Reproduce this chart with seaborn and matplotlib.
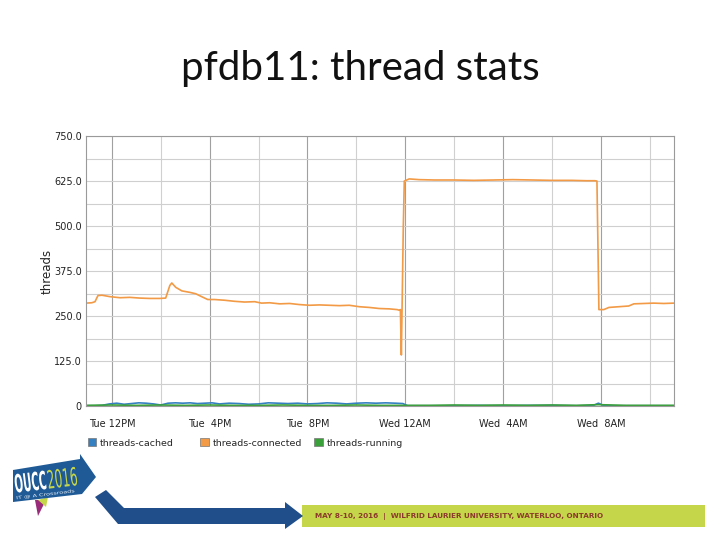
import numpy as np
import pandas as pd
import matplotlib

matplotlib.use('Agg')
import matplotlib.pyplot as plt
import matplotlib.patches as mpatches
from matplotlib.legend import Legend
from matplotlib.textpath import TextPath
from matplotlib.font_manager import FontProperties
from matplotlib.transforms import Affine2D
from matplotlib.ticker import MultipleLocator
import seaborn as sns

# --- dane (godziny od wtorku 00:00) ---
conn_t = [10.94, 11.18, 11.31, 11.43, 11.59, 11.92, 12.33, 12.73, 13.14, 13.55, 13.96, 14.20,
          14.37, 14.45, 14.61, 14.86, 15.18, 15.43, 15.67, 15.92, 16.20, 16.61, 17.02, 17.43,
          17.84, 18.12, 18.45, 18.86, 19.27, 19.67, 20.08, 20.49, 20.90, 21.31, 21.71, 22.12,
          22.53, 22.94, 23.35, 23.67, 23.76, 23.80, 23.84, 23.92, 23.96, 24.16, 24.57, 25.2,
          26.0, 26.8, 27.6, 28.4, 29.2, 30.0, 30.8, 31.4, 31.76, 31.84, 31.92, 32.12, 32.33,
          32.73, 33.14, 33.35, 33.76, 34.16, 34.57, 35.0]
conn_v = [286, 287, 290, 307, 308, 304, 301, 302, 300, 299, 299, 300,
          335, 342, 330, 320, 316, 312, 304, 296, 296, 294, 291, 289,
          290, 286, 287, 284, 285, 282, 280, 281, 280, 279, 280, 276,
          274, 271, 270, 268, 266, 268, 142, 500, 625, 631, 629, 628,
          628, 627, 628, 629, 628, 627, 627, 626, 626, 625, 268, 268, 274,
          276, 278, 284, 285, 286, 285, 286]

cached_t = [10.94, 11.3, 11.6, 11.9, 12.2, 12.5, 12.8, 13.1, 13.4, 13.7, 14.0, 14.3, 14.6,
            14.9, 15.2, 15.5, 15.8, 16.1, 16.4, 16.8, 17.2, 17.6, 18.0, 18.4, 18.8, 19.2,
            19.6, 20.0, 20.4, 20.8, 21.2, 21.6, 22.0, 22.4, 22.8, 23.2, 23.6, 23.9, 24.1,
            25.0, 26.0, 27.0, 28.0, 29.0, 30.0, 31.0, 31.7, 31.9, 32.1, 32.5, 33.5, 34.5, 35.0]
cached_v = [1, 1, 2, 6, 8, 5, 7, 9, 8, 6, 3, 8, 9,
            8, 9, 7, 8, 9, 6, 8, 7, 5, 6, 9, 8, 7,
            8, 6, 7, 9, 8, 6, 8, 9, 8, 9, 8, 7, 1,
            1, 1, 2, 1, 2, 2, 1, 2, 8, 2, 1, 1, 1, 1]

running_t = [10.94, 12.0, 13.0, 14.0, 15.0, 16.0, 17.0, 18.0, 19.0, 20.0, 21.0, 22.0, 23.0,
             24.0, 25.0, 26.0, 27.0, 28.0, 29.0, 30.0, 31.0, 31.9, 33.0, 34.0, 35.0]
running_v = [2, 3, 2, 3, 2, 3, 2, 2, 3, 2, 2, 3, 2,
             2, 2, 3, 2, 3, 2, 3, 2, 4, 2, 2, 2]

tick_pos = [12, 16, 20, 24, 28, 32]
tick_lbl = ['Tue 12PM', 'Tue  4PM', 'Tue  8PM', 'Wed 12AM', 'Wed  4AM', 'Wed  8AM']
ytick_pos = [0, 125, 250, 375, 500, 625, 750]
ytick_lbl = ['0', '125.0', '250.0', '375.0', '500.0', '625.0', '750.0']

series = ['threads-cached', 'threads-connected', 'threads-running']
colors = ['#3580c0', '#f29a45', '#3aa03a']

df = pd.concat([
    pd.DataFrame({'t': cached_t, 'v': cached_v, 's': series[0]}),
    pd.DataFrame({'t': conn_t, 'v': conn_v, 's': series[1]}),
    pd.DataFrame({'t': running_t, 'v': running_v, 's': series[2]}),
])

sns.set_style('white')
plt.rcParams['font.family'] = ['DejaVu Sans']

fig = plt.figure(figsize=(7.2, 5.4), dpi=100)
ax = fig.add_axes([0.1194, 0.248, 0.817, 0.5])

sns.lineplot(data=df, x='t', y='v', hue='s', palette=dict(zip(series, colors)),
             hue_order=series, ax=ax, linewidth=1.2, legend=False, sort=False)

ax.set_xlim(10.94, 35.0)
ax.set_ylim(0, 750)
ax.set_xticks(tick_pos)
ax.set_xticklabels(tick_lbl, fontsize=7, color='#222222')
ax.set_yticks(ytick_pos)
ax.set_yticklabels(ytick_lbl, fontsize=7, color='#222222')
ax.xaxis.set_minor_locator(MultipleLocator(2))
ax.yaxis.set_minor_locator(MultipleLocator(62.5))
ax.grid(which='major', axis='x', color='#a0a0a0', linewidth=0.8)
ax.grid(which='minor', axis='x', color='#d0d0d0', linewidth=0.8)
ax.grid(which='both', axis='y', color='#cfcfcf', linewidth=0.8)
ax.set_axisbelow(True)
ax.tick_params(axis='y', which='both', length=0, pad=3)
ax.tick_params(axis='x', which='both', length=0, pad=9)
for sp in ax.spines.values():
    sp.set_color('#9a9a9a')
    sp.set_linewidth(0.8)
ax.set_xlabel('')
ax.set_ylabel('threads', fontsize=8.5, color='#222222', labelpad=0)

# legenda: trzy wpisy w stałych odstępach
leg_x = [0.0034, 0.194, 0.388]
for s, c, lx in zip(series, colors, leg_x):
    h = mpatches.Patch(facecolor=c, edgecolor='#777777', linewidth=0.5, label=s)
    leg = Legend(ax, [h], [s], loc='center left', bbox_to_anchor=(lx, -0.137),
                 frameon=False, fontsize=6.8, handlelength=0.9, handleheight=0.9,
                 handletextpad=0.4, borderpad=0, borderaxespad=0)
    ax.add_artist(leg)

fig.text(0.5, 0.873, 'pfdb11: thread stats', ha='center', va='center',
         fontsize=29, family='Lato', color='#111111')

# --- stopka slajdu ---
def px(x, y):
    return (x / 720, 1 - y / 540)

def add_poly(pts, color):
    fig.patches.append(mpatches.Polygon([px(*p) for p in pts], closed=True,
                                        transform=fig.transFigure,
                                        facecolor=color, edgecolor='none'))

def boxed_text(s, x, y, w, h, color, rot=7, weight='bold'):
    # tekst ściśnięty do prostokąta (x, y = lewy dolny róg w pikselach)
    tp = TextPath((0, 0), s, size=20, prop=FontProperties(family='DejaVu Sans', weight=weight))
    ext = tp.get_extents()
    tr = (Affine2D().translate(-ext.x0, -ext.y0)
          .scale(w / ext.width, h / ext.height)
          .rotate_deg(rot).translate(x, 540 - y))
    fig.add_artist(mpatches.PathPatch(tp, transform=tr, facecolor=color,
                                      edgecolor='none', zorder=5))

add_poly([(302, 505), (705, 505), (705, 527), (302, 527)], '#c6d64a')
add_poly([(95, 497), (106, 490), (124, 508), (285, 508), (285, 502),
          (303, 516), (285, 529), (285, 524), (118, 524)], '#1f4e8a')
add_poly([(35, 500), (46, 500), (38, 516)], '#9a2a7a')
add_poly([(38, 500), (48, 497), (46, 507)], '#c6d64a')
add_poly([(13, 470), (80, 459), (80, 454), (96, 477), (82, 494), (13, 502)], '#1f5a96')
boxed_text('OUCC', 16, 493, 31, 19, 'white')
boxed_text('2016', 49, 489, 29, 19, '#c6d64a', weight='normal')
boxed_text('IT @ A Crossroads', 17, 500, 58, 4, '#e8eef5', weight='normal')
fig.text(px(315, 0)[0], px(0, 516)[1],
         'MAY 8-10, 2016  |  WILFRID LAURIER UNIVERSITY, WATERLOO, ONTARIO',
         fontsize=5.2, color='#8a3a2a', ha='left', va='center', weight='bold')

fig.savefig('out.png', dpi=100)
